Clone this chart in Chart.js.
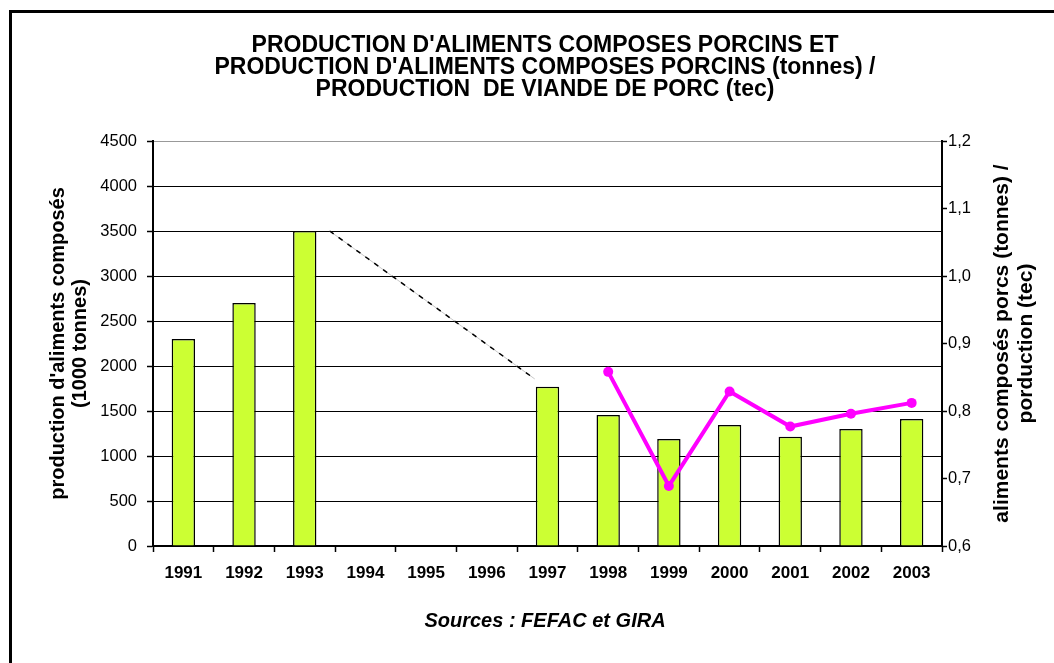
<!DOCTYPE html>
<html>
<head>
<meta charset="utf-8">
<script src="https://cdn.jsdelivr.net/npm/chart.js@4"></script>
<style>
  body { margin: 0; background: #fff; }
  #wrap { position: relative; width: 1054px; height: 663px; }
  #frame {
    position: absolute; left: 9px; top: 10px; width: 1045px; height: 653px;
    border-left: 3px solid #000; border-top: 3px solid #000; box-sizing: border-box;
    pointer-events: none;
  }
</style>
</head>
<body>
<div id="wrap">
  <canvas id="chart" width="1054" height="663"></canvas>
  <div id="frame"></div>
</div>
<script>
// values
const years = ["1991", "1992", "1993", "1994", "1995", "1996", "1997",
               "1998", "1999", "2000", "2001", "2002", "2003"];
const feedProduction = [2300, 2700, 3500, null, null, null, 1770,
                        1455, 1190, 1345, 1215, 1300, 1410];      // 1000 tonnes
const feedPerPork = [null, null, null, null, null, null, null,
                     0.858, 0.689, 0.829, 0.777, 0.796, 0.812];  // tonnes / tec
// dotted trend connector between 1993 and 1997
const connectorYears = [1993.41, 1996.79];
const connectorValues = [3500, 1856];

const FONT = '"Liberation Sans", Arial, sans-serif';

// right axis title, drawn bottom-to-top like the left one
const rightTitle = {
  id: "rightTitle",
  afterDraw(chart) {
    const ctx = chart.ctx;
    const yr = chart.scales.yRight;
    const cy = (chart.chartArea.top + chart.chartArea.bottom) / 2;
    const lines = ["aliments composés porcs (tonnes) /", "porduction (tec)"];
    ctx.save();
    ctx.font = "bold 21px " + FONT;
    ctx.fillStyle = "#000";
    ctx.textAlign = "center";
    ctx.textBaseline = "middle";
    lines.forEach((t, i) => {
      ctx.save();
      ctx.translate(yr.left + 60 + i * 24, cy);
      ctx.rotate(-Math.PI / 2);
      ctx.fillText(t, 0, 0);
      ctx.restore();
    });
    ctx.restore();
  }
};

const connectorPoints = connectorYears.map((x, i) => ({ x: x, y: connectorValues[i] }));

new Chart(document.getElementById("chart"), {
  data: {
    labels: years,
    datasets: [
      {
        type: "line",
        data: feedPerPork,
        yAxisID: "yRight",
        borderColor: "#FF00FF",
        backgroundColor: "#FF00FF",
        borderWidth: 4,
        pointRadius: 5,
        pointBorderWidth: 0,
        order: 0
      },
      {
        type: "line",
        data: connectorPoints,
        xAxisID: "xLin",
        yAxisID: "y",
        borderColor: "#000",
        borderWidth: 1.5,
        borderDash: [5, 6],
        pointRadius: 0,
        order: 1
      },
      {
        type: "line",
        data: connectorPoints,
        xAxisID: "xLin",
        yAxisID: "y",
        borderColor: "#c8c8c8",
        borderWidth: 1,
        pointRadius: 0,
        order: 2
      },
      {
        type: "bar",
        data: feedProduction,
        xAxisID: "x",
        yAxisID: "y",
        backgroundColor: "#CCFF33",
        borderColor: "#000",
        borderWidth: 1.5,
        grouped: false,
        categoryPercentage: 1,
        barPercentage: 0.385,
        order: 3
      }
    ]
  },
  options: {
    responsive: false,
    animation: false,
    layout: { padding: { left: 36, right: 0, top: 0, bottom: 0 } },
    plugins: {
      legend: { display: false },
      tooltip: { enabled: false },
      title: {
        display: true,
        text: ["PRODUCTION D'ALIMENTS COMPOSES PORCINS ET",
               "PRODUCTION D'ALIMENTS COMPOSES PORCINS (tonnes) /",
               "PRODUCTION  DE VIANDE DE PORC (tec)"],
        color: "#000",
        font: { family: FONT, size: 23, weight: "bold", lineHeight: "22px" },
        padding: { top: 35, bottom: 40 }
      },
      subtitle: {
        display: true,
        position: "bottom",
        text: "Sources : FEFAC et GIRA",
        color: "#000",
        font: { family: FONT, size: 20, weight: "bold", style: "italic", lineHeight: 1.2 },
        padding: { top: 13, bottom: 30 }
      }
    },
    scales: {
      x: {
        type: "category",
        offset: true,
        grid: {
          offset: true,
          drawOnChartArea: false,
          tickLength: 6,
          tickColor: "#000",
          tickWidth: 1.5
        },
        border: { color: "#000", width: 2 },
        ticks: {
          color: "#000",
          padding: 11,
          maxRotation: 0,
          autoSkip: false,
          font: { family: FONT, size: 17, weight: "bold" }
        },
        afterFit(scale) { scale.height = 50; }
      },
      xLin: {
        type: "linear",
        display: false,
        min: 1990.5,
        max: 2003.5
      },
      y: {
        position: "left",
        min: 0,
        max: 4500,
        ticks: {
          stepSize: 500,
          color: "#000",
          padding: 10,
          font: { family: FONT, size: 16.5 },
          callback: (v) => String(v)
        },
        grid: {
          color: (c) => (c.tick && c.tick.value === 4500 ? "#999" : "#000"),
          lineWidth: 1,
          tickLength: 6,
          tickColor: "#000",
          tickWidth: 1.5
        },
        border: { color: "#000", width: 2 },
        title: {
          display: true,
          text: ["production d'aliments composés", "(1000 tonnes)"],
          color: "#000",
          font: { family: FONT, size: 20, weight: "bold", lineHeight: 1.1 },
          padding: { top: 11, bottom: 0 }
        },
        afterFit(scale) { scale.width = 117; }
      },
      yRight: {
        position: "right",
        min: 0.6,
        max: 1.2,
        ticks: {
          stepSize: 0.1,
          color: "#000",
          padding: 1,
          font: { family: FONT, size: 16.5 },
          callback: (v) => v.toFixed(1).replace(".", ",")
        },
        grid: {
          drawOnChartArea: false,
          tickLength: 5,
          tickColor: "#000",
          tickWidth: 1.5
        },
        border: { color: "#000", width: 2 },
        afterFit(scale) { scale.width = 112; }
      }
    }
  },
  plugins: [rightTitle]
});
</script>
</body>
</html>
